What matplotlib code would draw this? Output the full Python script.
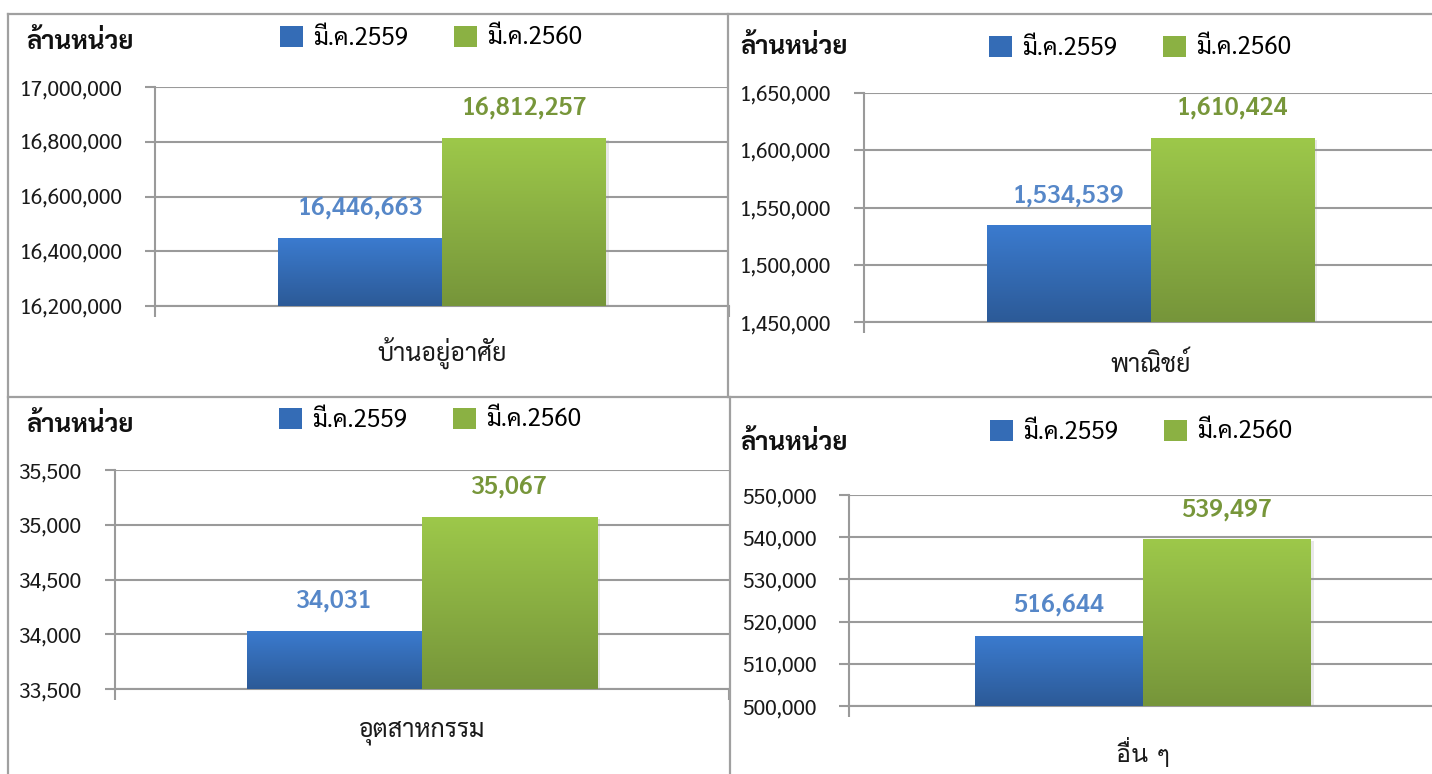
import matplotlib
matplotlib.use("Agg")
import matplotlib.pyplot as plt
import matplotlib.patheffects as pe
import numpy as np
from matplotlib.colors import LinearSegmentedColormap
from matplotlib.lines import Line2D
from matplotlib.patches import Patch
from matplotlib.ticker import FuncFormatter, MultipleLocator

plt.rcParams['font.family'] = ['Sarabun', 'DejaVu Sans']

# data
series = ['มี.ค.2559', 'มี.ค.2560']
categories = ['บ้านอยู่อาศัย', 'พาณิชย์', 'อุตสาหกรรม', 'อื่น ๆ']
values_2559 = [16446663, 1534539, 34031, 516644]
values_2560 = [16812257, 1610424, 35067, 539497]
y_ranges = [(16200000, 17000000, 200000),
            (1450000, 1650000, 50000),
            (33500, 35500, 500),
            (500000, 550000, 10000)]
unit_label = 'ล้านหน่วย'

W, H = 1432, 774
# plot area in pixels: left, top, right, bottom
plot_boxes = [(155, 87, 729, 306), (864, 93, 1437, 322),
              (115, 470, 729, 689), (849, 495, 1437, 706)]
legend_pos = [(431, 38), (1140, 48), (430, 420), (1141, 432)]
unit_pos = [(26, 43), (740, 48), (26, 426), (740, 444)]
# sarabun has no stacked tone-mark positioning without shaping, Loma does
cat_fonts = [None, None, None, ['Loma', 'Sarabun', 'DejaVu Sans']]

blue_cmap = LinearSegmentedColormap.from_list('b', ['#2c5a97', '#3b7bcf'])
green_cmap = LinearSegmentedColormap.from_list('g', ['#76953a', '#9dc84a'])
blue_text = '#5687c8'
green_text = '#77963a'
grid_col = '#9a9a9a'

fig = plt.figure(figsize=(W / 100, H / 100), dpi=100)

# panel frames
frame_kw = dict(color='#a0a0a0', lw=1.6, transform=fig.transFigure)
fig.add_artist(Line2D([8 / W, 1], [1 - 14 / H] * 2, **frame_kw))
fig.add_artist(Line2D([8 / W] * 2, [0, 1 - 14 / H], **frame_kw))
fig.add_artist(Line2D([8 / W, 1], [1 - 397 / H] * 2, **frame_kw))
fig.add_artist(Line2D([728 / W] * 2, [1 - 397 / H, 1 - 14 / H], **frame_kw))
fig.add_artist(Line2D([730 / W] * 2, [0, 1 - 397 / H], **frame_kw))

grad = np.linspace(0, 1, 256).reshape(-1, 1)
w = 2 / 7

for i in range(4):
    l, t, r, b = plot_boxes[i]
    ax = fig.add_axes([l / W, 1 - b / H, (r - l) / W, (b - t) / H])
    lo, hi, step = y_ranges[i]
    vals = [values_2559[i], values_2560[i]]
    xs = [-w / 2, w / 2]
    cmaps = [blue_cmap, green_cmap]
    cols = [blue_text, green_text]
    for x, v, cm, c in zip(xs, vals, cmaps, cols):
        bar = ax.bar(x, v - lo, bottom=lo, width=w, color=cm(0.5), zorder=3)[0]
        bar.set_path_effects([pe.SimplePatchShadow(offset=(2, -1.5), shadow_rgbFace='#999999', alpha=0.22),
                              pe.Normal()])
        img = ax.imshow(grad, cmap=cm, origin='lower', aspect='auto',
                        extent=(x - w / 2, x + w / 2, lo, v), zorder=4)
        img.set_clip_path(bar)
        ax.annotate(f'{v:,}', (x, v), xytext=(0, 21), textcoords='offset points',
                    ha='center', va='center', fontsize=18, fontweight='semibold', color=c)

    ax.set_xlim(-0.5, 0.5)
    ax.set_ylim(lo, hi)
    ax.yaxis.set_major_locator(MultipleLocator(step))
    ax.yaxis.set_major_formatter(FuncFormatter(lambda v, p: f'{v:,.0f}'))
    ax.grid(axis='y', color=grid_col, lw=1.5, zorder=0)
    ax.set_axisbelow(True)
    ax.set_xticks([-0.5, 0.5], labels=['', ''])
    ax.set_xticks([0], labels=[categories[i]], minor=True)
    if cat_fonts[i]:
        for lab in ax.get_xticklabels(minor=True):
            lab.set_family(cat_fonts[i])
            lab.set_fontsize(16)
    ax.tick_params(axis='x', which='major', length=8, width=1.5, color=grid_col, direction='out')
    ax.tick_params(axis='x', which='minor', length=0, pad=22, labelsize=18, labelcolor='#1a1a1a')
    ax.tick_params(axis='y', length=7, width=1.5, color=grid_col, pad=16.5,
                   labelsize=15.2, labelcolor='#1a1a1a')
    for s in ['top', 'right']:
        ax.spines[s].set_visible(False)
    ax.spines['left'].set_color(grid_col)
    ax.spines['left'].set_linewidth(1.5)
    ax.spines['bottom'].set_color(grid_col)
    ax.spines['bottom'].set_linewidth(1.5)
    ax.patch.set_alpha(0)

    # unit label
    ux, uy = unit_pos[i]
    fig.text(ux / W, 1 - uy / H, unit_label, fontsize=18.5, fontweight='bold',
             ha='left', va='center', color='#111111')

    # legend
    handles = [Patch(facecolor=cm(0.55), edgecolor='none') for cm in cmaps]
    lx, ly = legend_pos[i]
    fig.legend(handles, series, loc='center', bbox_to_anchor=(lx / W, 1 - ly / H),
               ncol=2, frameon=False, fontsize=17.5, handlelength=0.95, handleheight=0.95,
               handletextpad=0.4, columnspacing=1.9, borderpad=0)

fig.savefig('out.png', dpi=100)
